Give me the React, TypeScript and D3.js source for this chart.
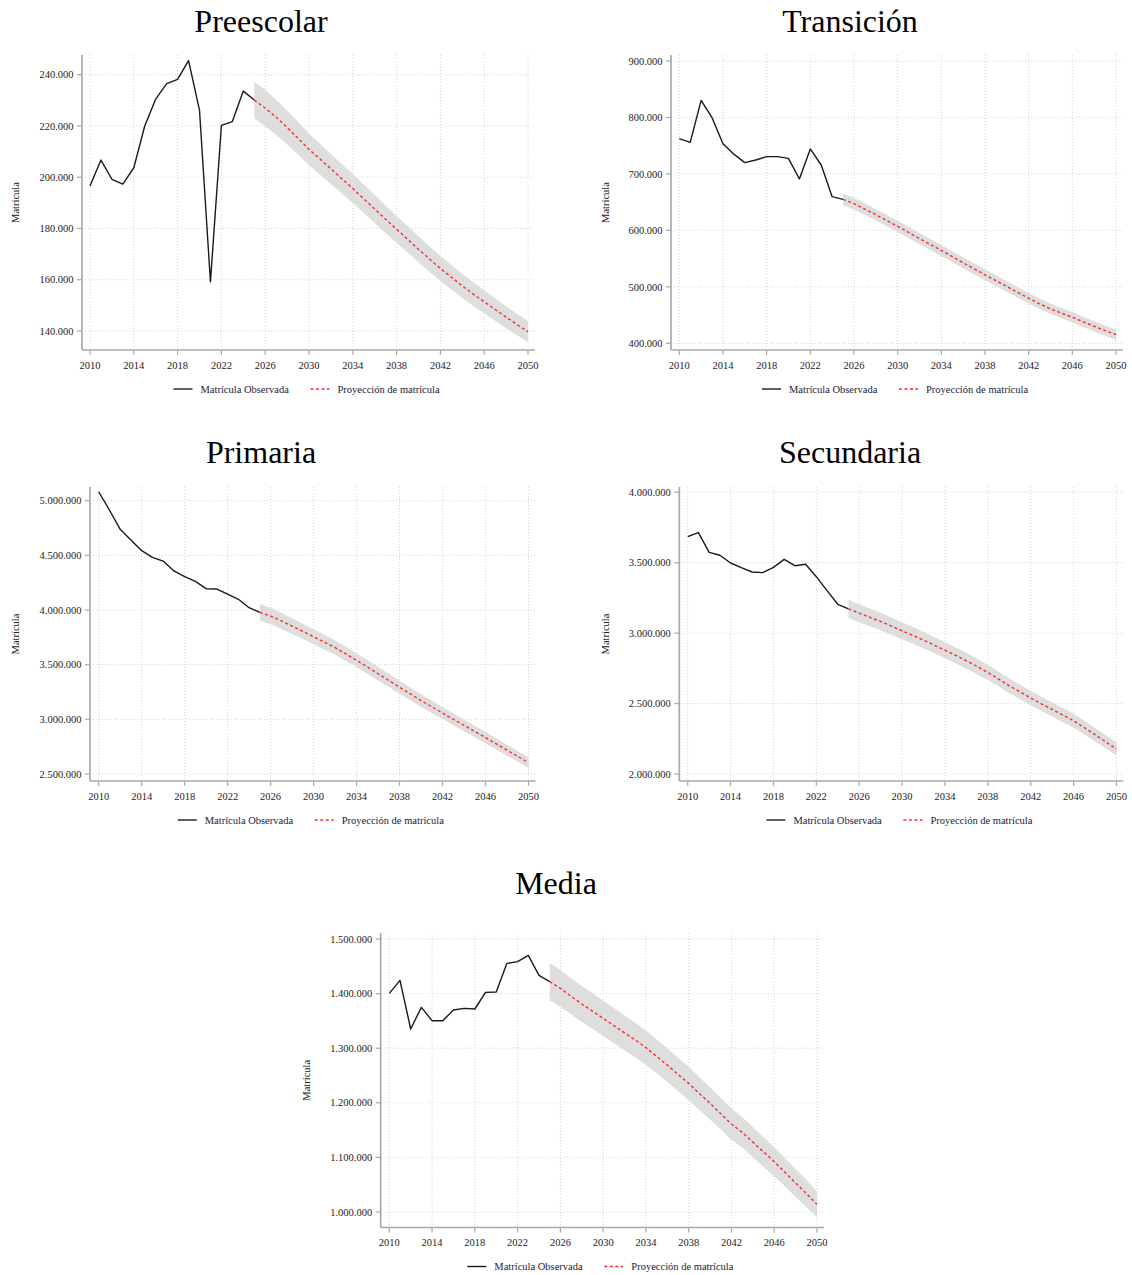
import React from 'react';
import * as d3 from 'd3';

// Observed enrolment, 2010–2025
const observedYears = [2010, 2011, 2012, 2013, 2014, 2015, 2016, 2017, 2018, 2019, 2020, 2021, 2022, 2023, 2024, 2025];
// Projection, 2025–2050
const projectionYears = [2025, 2026, 2027, 2028, 2029, 2030, 2031, 2032, 2033, 2034, 2035, 2036, 2037, 2038, 2039, 2040, 2041, 2042, 2043, 2044, 2045, 2046, 2047, 2048, 2049, 2050];
const yearTicks = [2010, 2014, 2018, 2022, 2026, 2030, 2034, 2038, 2042, 2046, 2050];

const preescolarObserved = [196600, 206700, 199200, 197300, 203700, 220000, 230500, 236500, 238200, 245500, 226200, 159200, 220200, 221700, 233600, 230100];
const preescolarProjection = [230100, 227000, 223400, 219400, 215200, 210900, 207100, 203300, 199400, 195600, 191600, 187600, 183600, 179700, 175800, 171900, 168100, 164400, 161000, 157600, 154400, 151400, 148400, 145400, 142500, 139700];
const preescolarHalfWidth = [7200, 7000, 6800, 6600, 6400, 6200, 6000, 5900, 5800, 5700, 5600, 5500, 5400, 5300, 5200, 5100, 5000, 4900, 4800, 4700, 4600, 4500, 4400, 4300, 4200, 4100];
const preescolarTicks = [140000, 160000, 180000, 200000, 220000, 240000];

const transicionObserved = [762500, 755900, 830300, 799600, 753600, 735000, 720000, 724700, 730600, 730600, 727600, 691000, 744200, 715800, 659700, 655000];
const transicionProjection = [655000, 647300, 637500, 627800, 617500, 607100, 596500, 585500, 575000, 564500, 553500, 542600, 532000, 521300, 511000, 500600, 490000, 479900, 470000, 461000, 453500, 446200, 438000, 430200, 422500, 415400];
const transicionHalfWidth = [10500, 10400, 10300, 10200, 10100, 10000, 9900, 9900, 9800, 9800, 9700, 9700, 9600, 9600, 9500, 9500, 9400, 9400, 9300, 9300, 9200, 9200, 9100, 9100, 9000, 9000];
const transicionTicks = [400000, 500000, 600000, 700000, 800000, 900000];

const primariaObserved = [5082000, 4915000, 4738000, 4640000, 4543000, 4482000, 4448000, 4357000, 4305000, 4262000, 4195000, 4192000, 4146000, 4098000, 4021000, 3979000];
const primariaProjection = [3979000, 3945000, 3900000, 3853000, 3805000, 3755000, 3706000, 3656000, 3598000, 3540000, 3479000, 3417000, 3356000, 3294000, 3233000, 3172000, 3115000, 3058000, 3001000, 2945000, 2889000, 2834000, 2776000, 2718000, 2661000, 2604000];
const primariaHalfWidth = [78000, 76000, 74000, 72000, 70000, 68000, 67000, 66000, 65000, 64000, 63000, 62000, 61000, 60000, 59000, 58000, 57000, 56000, 55000, 54000, 53000, 52000, 51000, 50000, 49000, 48000];
const primariaTicks = [2500000, 3000000, 3500000, 4000000, 4500000, 5000000];

const secundariaObserved = [3685000, 3714000, 3574000, 3553000, 3498000, 3465000, 3434000, 3430000, 3467000, 3524000, 3479000, 3489000, 3401000, 3302000, 3205000, 3173000];
const secundariaProjection = [3173000, 3142000, 3112000, 3083000, 3050000, 3017000, 2984000, 2950000, 2915000, 2879000, 2842000, 2804000, 2763000, 2721000, 2674000, 2626000, 2583000, 2539000, 2498000, 2458000, 2418000, 2378000, 2329000, 2279000, 2228000, 2177000];
const secundariaHalfWidth = [65000, 64000, 63000, 62000, 61000, 60000, 59000, 58500, 58000, 57500, 57000, 56000, 55000, 54000, 53000, 52500, 52000, 51500, 51000, 50500, 50000, 49500, 49000, 48000, 47500, 47000];
const secundariaTicks = [2000000, 2500000, 3000000, 3500000, 4000000];

const mediaObserved = [1400500, 1424300, 1335200, 1374800, 1350400, 1350400, 1370000, 1373000, 1371800, 1402300, 1403000, 1455400, 1458500, 1470000, 1433500, 1421900];
const mediaProjection = [1421900, 1409600, 1395000, 1381000, 1368000, 1354700, 1341500, 1328000, 1315000, 1301000, 1285000, 1269000, 1252000, 1235600, 1217000, 1199000, 1180000, 1161000, 1146000, 1128000, 1110000, 1092000, 1073000, 1053000, 1034000, 1014000];
const mediaHalfWidth = [34000, 33500, 33000, 33000, 32500, 32500, 32000, 32000, 31500, 31500, 31000, 31000, 30500, 30500, 30000, 29500, 29000, 28500, 28000, 27500, 27000, 26500, 26000, 25500, 25000, 24000];
const mediaTicks = [1000000, 1100000, 1200000, 1300000, 1400000, 1500000];

const FONT = '"Liberation Serif", "Times New Roman", Times, serif';
const AXIS_GREY = '#a9a9a9';
const GRID_GREY = '#cfcfcf';

const locale = d3.formatLocale({ decimal: ',', thousands: '.', grouping: [3], currency: ['$', ''] });
const fmt = locale.format(',');

type PanelProps = {
  title: string;
  observed: number[];
  projection: number[];
  halfWidth: number[];
  ticks: number[];
  axisX: number;
  x0: number;
  x1: number;
  plotTop: number;
  axisY: number;
  yTopPx: number;
  yBottomPx: number;
  titleX: number;
  titleY: number;
  labelX: number;
};

function Panel(p: PanelProps) {
  const x = d3.scaleLinear().domain([2010, 2050]).range([p.x0, p.x1]);
  const y = d3.scaleLinear()
    .domain([p.ticks[0], p.ticks[p.ticks.length - 1]])
    .range([p.yBottomPx, p.yTopPx]);
  const right = p.x1 + 7;

  const obsLine = d3.line<number>()
    .x((_, i) => x(observedYears[i]))
    .y((d) => y(d));
  const projLine = d3.line<number>()
    .x((_, i) => x(projectionYears[i]))
    .y((d) => y(d));
  const band = d3.area<number>()
    .x((_, i) => x(projectionYears[i]))
    .y0((d, i) => y(d - p.halfWidth[i]))
    .y1((d, i) => y(d + p.halfWidth[i]));

  const legendCenter = (p.axisX + right) / 2 - 1;
  const legendY = p.axisY + 39;
  const lx = legendCenter - 134;

  return (
    <g>
      <text x={p.titleX} y={p.titleY} textAnchor="middle" fontFamily={FONT} fontSize={32} fill="#000">
        {p.title}
      </text>
      {/* grid */}
      {p.ticks.map((t) => (
        <line key={'h' + t} x1={p.axisX} x2={right} y1={y(t)} y2={y(t)} stroke={GRID_GREY} strokeWidth={0.9} strokeDasharray="1,2" />
      ))}
      {yearTicks.map((t) => (
        <line key={'v' + t} x1={x(t)} x2={x(t)} y1={p.plotTop} y2={p.axisY} stroke={GRID_GREY} strokeWidth={0.9} strokeDasharray="1,2" />
      ))}
      {/* confidence band and lines */}
      <path d={band(p.projection) || ''} fill="#dedede" stroke="none" />
      <path d={obsLine(p.observed) || ''} fill="none" stroke="#1a1a1a" strokeWidth={1.4} strokeLinejoin="round" />
      <path d={projLine(p.projection) || ''} fill="none" stroke="#ff2a2a" strokeWidth={1.4} strokeDasharray="3,2.5" />
      {/* axes */}
      <line x1={p.axisX} x2={p.axisX} y1={p.plotTop} y2={p.axisY} stroke={AXIS_GREY} strokeWidth={1.7} />
      <line x1={p.axisX} x2={right} y1={p.axisY} y2={p.axisY} stroke={AXIS_GREY} strokeWidth={1.7} />
      {p.ticks.map((t) => (
        <g key={'yt' + t}>
          <line x1={p.axisX - 5} x2={p.axisX} y1={y(t)} y2={y(t)} stroke={AXIS_GREY} strokeWidth={1.2} />
          <text x={p.axisX - 8.5} y={y(t)} dy="0.35em" textAnchor="end" fontFamily={FONT} fontSize={10.5} fill="#222">
            {fmt(t)}
          </text>
        </g>
      ))}
      {yearTicks.map((t) => (
        <g key={'xt' + t}>
          <line x1={x(t)} x2={x(t)} y1={p.axisY} y2={p.axisY + 5} stroke={AXIS_GREY} strokeWidth={1.2} />
          <text x={x(t)} y={p.axisY + 15} dy="0.35em" textAnchor="middle" fontFamily={FONT} fontSize={10.5} fill="#222">
            {t}
          </text>
        </g>
      ))}
      <text
        transform={`translate(${p.labelX},${(p.plotTop + p.axisY) / 2}) rotate(-90)`}
        textAnchor="middle"
        dy="0.35em"
        fontFamily={FONT}
        fontSize={10.5}
        fill="#222"
      >
        Matrícula
      </text>
      {/* legend */}
      <line x1={lx} x2={lx + 19} y1={legendY} y2={legendY} stroke="#1a1a1a" strokeWidth={1.4} />
      <text x={lx + 27} y={legendY} dy="0.35em" fontFamily={FONT} fontSize={10.5} fill="#1a1a3a">
        Matrícula Observada
      </text>
      <line x1={lx + 137} x2={lx + 156} y1={legendY} y2={legendY} stroke="#ff2a2a" strokeWidth={1.4} strokeDasharray="3,2.5" />
      <text x={lx + 164} y={legendY} dy="0.35em" fontFamily={FONT} fontSize={10.5} fill="#1a1a3a">
        Proyección de matrícula
      </text>
    </g>
  );
}

export default function App() {
  return (
    <div style={{ position: 'absolute', left: 0, top: 0 }}>
      <svg width={1132} height={1275} style={{ display: 'block', background: '#fff' }}>
        <Panel title="Preescolar" observed={preescolarObserved} projection={preescolarProjection} halfWidth={preescolarHalfWidth}
          ticks={preescolarTicks} axisX={82} x0={90} x1={528} plotTop={55} axisY={350} yTopPx={74.7} yBottomPx={331}
          titleX={261} titleY={32} labelX={15} />
        <Panel title="Transición" observed={transicionObserved} projection={transicionProjection} halfWidth={transicionHalfWidth}
          ticks={transicionTicks} axisX={671} x0={679.3} x1={1116} plotTop={55} axisY={350} yTopPx={61} yBottomPx={343.3}
          titleX={850} titleY={32} labelX={605} />
        <Panel title="Primaria" observed={primariaObserved} projection={primariaProjection} halfWidth={primariaHalfWidth}
          ticks={primariaTicks} axisX={90} x0={98.7} x1={528.5} plotTop={487} axisY={781} yTopPx={500.7} yBottomPx={774}
          titleX={261} titleY={463} labelX={15} />
        <Panel title="Secundaria" observed={secundariaObserved} projection={secundariaProjection} halfWidth={secundariaHalfWidth}
          ticks={secundariaTicks} axisX={679.3} x0={687.7} x1={1116.5} plotTop={487} axisY={781} yTopPx={492.3} yBottomPx={774}
          titleX={850} titleY={463} labelX={605} />
        <Panel title="Media" observed={mediaObserved} projection={mediaProjection} halfWidth={mediaHalfWidth}
          ticks={mediaTicks} axisX={380.7} x0={389.3} x1={817} plotTop={933} axisY={1227.5} yTopPx={939} yBottomPx={1212}
          titleX={556} titleY={894} labelX={306} />
      </svg>
    </div>
  );
}
